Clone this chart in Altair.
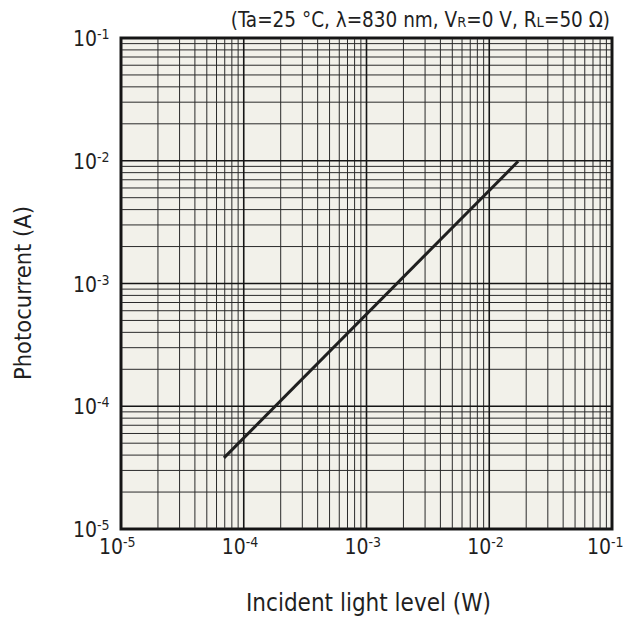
import altair as alt
import pandas as pd

# ---- data ----
power_w = [6.9e-5, 1.72e-2]          # incident light level (W)
current_a = [3.8e-5, 9.9e-3]         # photocurrent (A)

decades = [-5, -4, -3, -2, -1]
exponent_labels = ["-5", "-4", "-3", "-2", "-1"]
minor_multipliers = [2, 3, 4, 5, 6, 7, 8, 9]

title_pieces = ["(Ta=25 °C, λ=830 nm, V", "R", "=0 V, R", "L", "=50 Ω)"]
title_is_sub = [False, True, False, True, False]

x_title = "Incident light level (W)"
y_title = "Photocurrent (A)"

# ---- derived tables ----
major_vals = [10.0 ** e for e in decades]
minor_vals = [m * 10.0 ** e for e in decades[:-1] for m in minor_multipliers]
line_df = pd.DataFrame({"p": power_w, "i": current_a})
major_df = pd.DataFrame({"v": major_vals, "exp": exponent_labels,
                         "last": [i == len(decades) - 1 for i in range(len(decades))]})
minor_df = pd.DataFrame({"v": minor_vals})

W = H = 491
FONT = "DejaVu Sans Condensed, DejaVu Sans"
INK = "#1f1f1f"
GRID = "#2a2a2a"
DOMAIN = [1e-5, 1e-1]
xs = alt.Scale(type="log", domain=DOMAIN)
ys = alt.Scale(type="log", domain=DOMAIN)

base = alt.Chart(major_df)

minor_v = alt.Chart(minor_df).mark_rule(color=GRID, strokeWidth=1).encode(
    x=alt.X("v:Q", scale=xs, axis=None))
minor_h = alt.Chart(minor_df).mark_rule(color=GRID, strokeWidth=1).encode(
    y=alt.Y("v:Q", scale=ys, axis=None))
major_v = base.mark_rule(color="#151515", strokeWidth=1.6).encode(
    x=alt.X("v:Q", scale=xs, axis=None))
major_h = base.mark_rule(color="#151515", strokeWidth=1.6).encode(
    y=alt.Y("v:Q", scale=ys, axis=None))

line = alt.Chart(line_df).mark_line(color=INK, strokeWidth=3).encode(
    x=alt.X("p:Q", scale=xs, axis=None),
    y=alt.Y("i:Q", scale=ys, axis=None))

# tick labels: "10" with a superscript exponent
def x_labels(data_filter, shift):
    b = base.transform_filter(data_filter)
    lb = b.mark_text(text="10", font=FONT, fontSize=21, color=INK,
                     align="right", baseline="alphabetic", dx=shift).encode(
        x=alt.X("v:Q", scale=xs, axis=None), y=alt.value(H + 25))
    le = b.mark_text(font=FONT, fontSize=14, color=INK,
                     align="left", baseline="alphabetic", dx=shift).encode(
        x=alt.X("v:Q", scale=xs, axis=None), y=alt.value(H + 18), text="exp:N")
    return [lb, le]

xl_layers = x_labels("!datum.last", 2) + x_labels("datum.last", -1)

yl_base = base.mark_text(text="10", font=FONT, fontSize=21, color=INK,
                         align="right", baseline="alphabetic", dy=8).encode(
    y=alt.Y("v:Q", scale=ys, axis=None), x=alt.value(-24))
yl_exp = base.mark_text(font=FONT, fontSize=14, color=INK,
                        align="left", baseline="alphabetic", dy=1).encode(
    y=alt.Y("v:Q", scale=ys, axis=None), x=alt.value(-24), text="exp:N")

one = pd.DataFrame({"k": [0]})
xt = alt.Chart(one).mark_text(text=x_title, font=FONT, fontSize=24, color=INK,
                              align="center", baseline="alphabetic").encode(
    x=alt.value(W / 2 + 2), y=alt.value(H + 82))
yt = alt.Chart(one).mark_text(text=y_title, font=FONT, fontSize=23.5, color=INK,
                              align="center", baseline="middle", angle=270).encode(
    x=alt.value(-97), y=alt.value(255))

# condition title with subscript letters, right-anchored at the plot's right edge
adv = {'(': 799, ')': 799, ' ': 651, ',': 651, '=': 1716, '°': 1024, 'C': 1430,
       'L': 1153, 'R': 1423, 'T': 1251, 'V': 1401, 'a': 1255, 'm': 1995,
       'n': 1298, 'λ': 1212, 'Ω': 1577}
COND = 0.9
def text_w(s, size):
    return sum(adv.get(c, 1303) for c in s) * size / 2048.0 * COND

sizes = [20.5 if not sub else 14.5 for sub in title_is_sub]
cursor = W - 2
title_layers = []
for s, z in reversed(list(zip(title_pieces, sizes))):
    title_layers.append(
        alt.Chart(one).mark_text(text=s, font=FONT, fontSize=z, color=INK,
                                 align="right", baseline="alphabetic").encode(
            x=alt.value(cursor), y=alt.value(-11)))
    cursor -= text_w(s, z)

chart = alt.layer(
    minor_v, minor_h, major_v, major_h, line,
    *xl_layers, yl_base, yl_exp, xt, yt, *title_layers
).properties(
    width=W, height=H,
    autosize=alt.AutoSizeParams(type="none"),
    padding={"left": 113, "top": 30, "right": 11, "bottom": 88},
    background="white",
).configure_view(stroke="#1a1a1a", strokeWidth=3, fill="#f2f1ea")

chart.save("out.html", embed_options={"renderer": "svg", "actions": False})
